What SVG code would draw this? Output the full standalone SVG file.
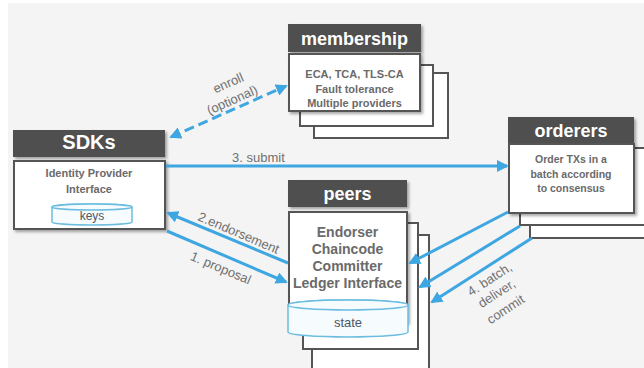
<svg xmlns="http://www.w3.org/2000/svg" width="644" height="368" viewBox="0 0 644 368">
  <defs>
    <marker id="arrow" viewBox="0 0 12 12" refX="10" refY="6" markerWidth="12" markerHeight="12" markerUnits="userSpaceOnUse" orient="auto-start-reverse">
      <path d="M0,0 L12,6 L0,12 Z" fill="#3ea6e0"/>
    </marker>
    <filter id="shadow" x="-10%" y="-10%" width="130%" height="130%">
      <feGaussianBlur in="SourceAlpha" stdDeviation="1.5"/>
      <feOffset dx="1.5" dy="2" result="b"/>
      <feComponentTransfer><feFuncA type="linear" slope="0.35"/></feComponentTransfer>
      <feMerge><feMergeNode/><feMergeNode in="SourceGraphic"/></feMerge>
    </filter>
    <style>
      .hdr { fill: #505050; }
      .hdrText { font-family: "Liberation Sans", Arial, sans-serif; font-weight: bold; fill: #ffffff; text-anchor: middle; }
      .body { fill: #ffffff; stroke: #555555; stroke-width: 2; }
      .back { fill: #ffffff; stroke: #555555; stroke-width: 2; }
      .bodyText { font-family: "Liberation Sans", Arial, sans-serif; font-weight: bold; fill: #6a6a6a; text-anchor: middle; }
      .cyl { fill: #f6fbfd; stroke: #6cbde0; stroke-width: 1.5; }
      .cylText { font-family: "Liberation Sans", Arial, sans-serif; fill: #4a5868; text-anchor: middle; }
      .flow { fill: none; stroke: #3ea6e0; stroke-width: 3; }
      .dash { stroke-dasharray: 10 5; }
      .lbl { font-family: "Liberation Sans", Arial, sans-serif; font-size: 13px; fill: #707070; }
    </style>
  </defs>

  <!-- background -->
  <rect x="0" y="0" width="644" height="368" fill="#ffffff"/>
  <rect x="8" y="3" width="636" height="365" fill="#f4f4f4"/>

  <!-- membership service -->
  <g id="membership">
    <rect class="back" x="314" y="73" width="134" height="65"/>
    <rect class="back" x="300" y="65" width="133" height="61"/>
    <g filter="url(#shadow)">
      <rect class="hdr" x="288" y="24" width="133" height="28"/>
      <rect class="body" x="289" y="54" width="131" height="57"/>
    </g>
    <text class="hdrText" x="354.5" y="45" font-size="18">membership</text>
    <text class="bodyText" font-size="11" x="354.5" y="78">ECA, TCA, TLS-CA</text>
    <text class="bodyText" font-size="11" x="354.5" y="93">Fault tolerance</text>
    <text class="bodyText" font-size="11" x="354.5" y="107">Multiple providers</text>
  </g>

  <!-- client SDKs -->
  <g id="sdks">
    <g filter="url(#shadow)">
      <rect class="hdr" x="13" y="130" width="152" height="27"/>
      <rect class="body" x="14" y="161" width="151" height="68"/>
    </g>
    <text class="hdrText" x="89" y="149" font-size="20">SDKs</text>
    <text class="bodyText" font-size="11" x="89" y="177">Identity Provider</text>
    <text class="bodyText" font-size="11" x="89" y="193">Interface</text>
    <path class="cyl" d="M52,207 L52,222 A40,3 0 0 0 132,222 L132,207 A40,3 0 0 0 52,207 Z"/>
    <ellipse class="cyl" cx="92" cy="207" rx="40" ry="3"/>
    <text class="cylText" font-size="12" x="92" y="220">keys</text>
  </g>

  <!-- ordering service -->
  <g id="orderers">
    <rect class="back" x="530" y="158" width="130" height="80"/>
    <rect class="back" x="520" y="148" width="130" height="77"/>
    <g filter="url(#shadow)">
      <rect class="hdr" x="508" y="117" width="126" height="27"/>
      <rect class="body" x="509" y="144" width="125" height="69"/>
    </g>
    <text class="hdrText" x="571" y="137" font-size="18">orderers</text>
    <text class="bodyText" font-size="10.5" x="571" y="163">Order TXs in a</text>
    <text class="bodyText" font-size="10.5" x="571" y="178">batch according</text>
    <text class="bodyText" font-size="10.5" x="571" y="192">to consensus</text>
  </g>

  <!-- peer nodes -->
  <g id="peers">
    <rect class="back" x="312" y="235" width="117" height="134"/>
    <rect class="back" x="303" y="223" width="115" height="126"/>
    <g filter="url(#shadow)">
      <rect class="hdr" x="288" y="180" width="119" height="27"/>
      <rect class="body" x="289" y="212" width="118" height="110"/>
    </g>
    <text class="hdrText" x="347.5" y="200" font-size="18">peers</text>
    <text class="bodyText" font-size="14" x="347.5" y="237">Endorser</text>
    <text class="bodyText" font-size="14" x="347.5" y="254">Chaincode</text>
    <text class="bodyText" font-size="14" x="347.5" y="271">Committer</text>
    <text class="bodyText" font-size="14" x="347.5" y="288">Ledger Interface</text>
    <path class="cyl" d="M288,305 L288,332 A60,5 0 0 0 408,332 L408,305 A60,5 0 0 0 288,305 Z"/>
    <ellipse class="cyl" cx="348" cy="305" rx="60" ry="5"/>
    <text class="cylText" font-size="13" x="348" y="327">state</text>
  </g>

  <!-- connectors -->
  <g id="connectors">
    <line class="flow dash" x1="171" y1="137" x2="286" y2="86" marker-start="url(#arrow)" marker-end="url(#arrow)"/>
    <line class="flow" x1="166" y1="166" x2="507" y2="166" marker-end="url(#arrow)"/>
    <line class="flow" x1="288" y1="263" x2="168" y2="213" marker-end="url(#arrow)"/>
    <line class="flow" x1="167" y1="231" x2="286" y2="282" marker-end="url(#arrow)"/>
    <line class="flow" x1="508" y1="212" x2="410" y2="263" marker-end="url(#arrow)"/>
    <line class="flow" x1="520" y1="226" x2="420" y2="287" marker-end="url(#arrow)"/>
    <line class="flow" x1="532" y1="238" x2="432" y2="302" marker-end="url(#arrow)"/>
  </g>

  <!-- connector labels -->
  <g id="labels">
    <text class="lbl" text-anchor="middle" transform="translate(230,87) rotate(-24)">enroll</text>
    <text class="lbl" text-anchor="middle" transform="translate(234,104) rotate(-24)">(optional)</text>
    <text class="lbl" x="232" y="162">3. submit</text>
    <text class="lbl" text-anchor="middle" transform="translate(237,237) rotate(23)">2.endorsement</text>
    <text class="lbl" text-anchor="middle" transform="translate(219,272) rotate(23)">1. proposal</text>
    <text class="lbl" text-anchor="middle" transform="translate(492,283) rotate(-33)">4. batch,</text>
    <text class="lbl" text-anchor="middle" transform="translate(499,297) rotate(-33)">deliver,</text>
    <text class="lbl" text-anchor="middle" transform="translate(508,313) rotate(-33)">commit</text>
  </g>
</svg>
